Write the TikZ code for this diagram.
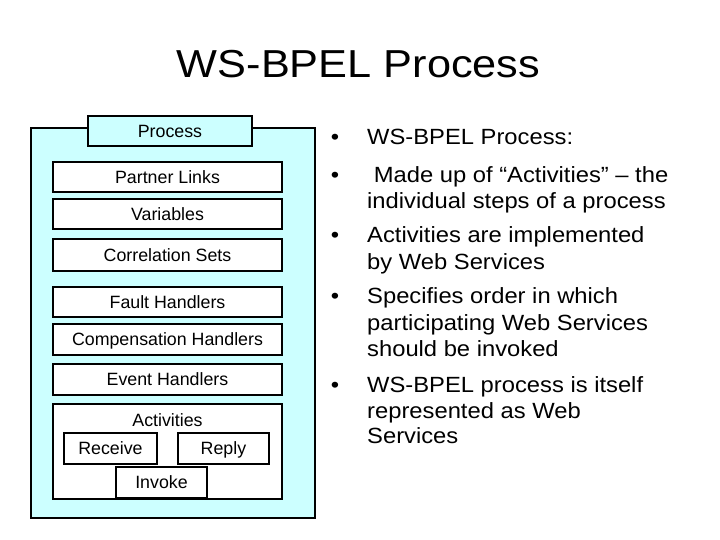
\documentclass[tikz,border=0pt]{standalone}
\usepackage{fontspec}
\setmainfont{Liberation Sans}
\newfontfamily\titlefont[FakeStretch=1.11]{Liberation Sans}
\newfontfamily\bulfont[FakeStretch=1.08]{Liberation Sans}
\definecolor{paleCyan}{RGB}{204,255,255}
\tikzset{
  boxfont/.style={font=\fontsize{17.8}{20}\selectfont, text height=12.9pt, text depth=0pt},
  box/.style={draw=black, line width=1.9pt, fill=white, rectangle, inner sep=0pt, boxfont},
  cyanbox/.style={box, fill=paleCyan},
  bul/.style={anchor=base, inner sep=0pt, font=\bulfont\fontsize{22}{26}\selectfont},
  btext/.style={anchor=base west, inner sep=0pt, font=\bulfont\fontsize{22}{26}\selectfont},
}
\begin{document}
\begin{tikzpicture}[x=1pt,y=-1pt]
\useasboundingbox (0,0) rectangle (720,540);
\node[anchor=base, inner sep=0pt, font=\titlefont\fontsize{39}{44}\selectfont] (title) at (358.5,78) {WS-BPEL Process};

% left diagram
\node[cyanbox, minimum width=284pt, minimum height=390pt] (proc) at (173,323) {};
\node[cyanbox, minimum width=164pt, minimum height=30pt] (tab) at (170,131) {Process};
\node[box, minimum width=229pt, minimum height=30pt] (pl) at (167.5,177) {Partner Links};
\node[box, minimum width=229pt, minimum height=30pt] (var) at (167.5,214) {Variables};
\node[box, minimum width=229pt, minimum height=32pt] (cs) at (167.5,255) {Correlation Sets};
\node[box, minimum width=229pt, minimum height=30pt] (fh) at (167.5,302) {Fault Handlers};
\node[box, minimum width=229pt, minimum height=31pt] (ch) at (167.5,339.5) {Compensation Handlers};
\node[box, minimum width=229pt, minimum height=31pt] (eh) at (167.5,379.5) {Event Handlers};
\node[box, minimum width=229pt, minimum height=95pt] (act) at (167.5,451.5) {};
\node[inner sep=0pt, boxfont] (actlbl) at (167.5,420) {Activities};
\node[box, minimum width=93pt, minimum height=31pt] (recv) at (110.5,448.5) {Receive};
\node[box, minimum width=91pt, minimum height=31pt] (reply) at (223.5,448.5) {Reply};
\node[box, minimum width=91pt, minimum height=31pt] (invoke) at (161.5,482.5) {Invoke};

% bullets
\node[bul] (b1) at (335,145) {•};
\node[btext] (t1) at (367,145) {WS-BPEL Process:};
\node[bul] (b2) at (335,183) {•};
\node[btext] (t2a) at (367,183) {\ Made up of “Activities” – the};
\node[btext] (t2b) at (367,209) {individual steps of a process};
\node[bul] (b3) at (335,243) {•};
\node[btext] (t3a) at (367,243) {Activities are implemented};
\node[btext] (t3b) at (367,269) {by Web Services};
\node[bul] (b4) at (335,303) {•};
\node[btext] (t4a) at (367,303) {Specifies order in which};
\node[btext] (t4b) at (367,330) {participating Web Services};
\node[btext] (t4c) at (367,356) {should be invoked};
\node[bul] (b5) at (335,392) {•};
\node[btext] (t5a) at (367,392) {WS-BPEL process is itself};
\node[btext] (t5b) at (367,418) {represented as Web};
\node[btext] (t5c) at (367,443) {Services};
\end{tikzpicture}
\end{document}
